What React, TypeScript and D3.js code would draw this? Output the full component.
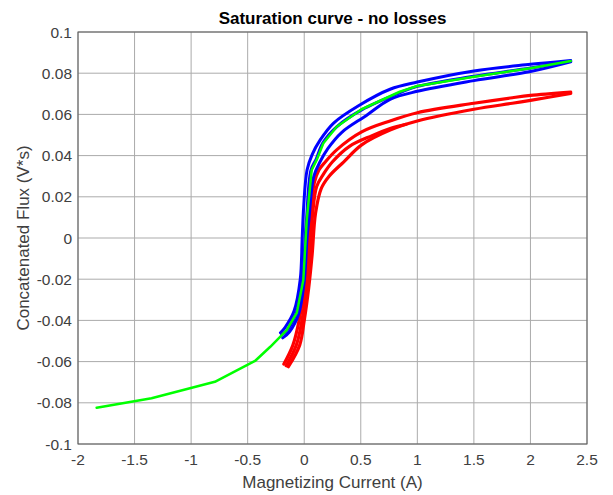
import React from "react";
import * as d3 from "d3";

type P = [number, number];

const xTicks = [-2, -1.5, -1, -0.5, 0, 0.5, 1, 1.5, 2, 2.5];
const yTicks = [-0.1, -0.08, -0.06, -0.04, -0.02, 0, 0.02, 0.04, 0.06, 0.08, 0.1];
const xTickLabels = ["-2", "-1.5", "-1", "-0.5", "0", "0.5", "1", "1.5", "2", "2.5"];
const yTickLabels = ["-0.1", "-0.08", "-0.06", "-0.04", "-0.02", "0", "0.02", "0.04", "0.06", "0.08", "0.1"];

const greenCurve: P[] = [
  [-1.835, -0.0824], [-1.35, -0.0778], [-0.79, -0.0698], [-0.435, -0.0597], [-0.3, -0.0528],
  [-0.155, -0.0447], [-0.066, -0.0364], [-0.008, -0.0204], [0.022, 0.0087], [0.066, 0.033],
  [0.11, 0.0379], [0.169, 0.046], [0.287, 0.054], [0.508, 0.0625], [0.845, 0.071],
  [1.0, 0.0738], [1.5, 0.0783], [2.0, 0.0824], [2.356, 0.0859],
];

const blueUpper: P[] = [
  [-0.21, -0.046], [-0.17, -0.0435], [-0.09, -0.0355], [-0.035, -0.02], [-0.018, 0.0],
  [-0.005, 0.015], [0.025, 0.033], [0.07, 0.0405], [0.14, 0.0475], [0.26, 0.0558], [0.48, 0.0642],
  [0.759, 0.0722], [1.0, 0.0757], [1.5, 0.0811], [2.0, 0.0843], [2.356, 0.0862],
];
const blueMiddle: P[] = [
  [-0.2, -0.047], [-0.15, -0.0447], [-0.07, -0.0364], [-0.015, -0.0204], [0.008, 0.0],
  [0.02, 0.0087], [0.06, 0.033], [0.105, 0.0382], [0.165, 0.0462], [0.287, 0.054], [0.508, 0.0622],
  [0.845, 0.0705], [1.0, 0.0736], [1.5, 0.0785], [2.0, 0.0825], [2.356, 0.0858],
];
const blueLower: P[] = [
  [-0.19, -0.0485], [-0.13, -0.0455], [-0.05, -0.037], [0.0, -0.021], [0.025, 0.0],
  [0.04, 0.008], [0.085, 0.03], [0.14, 0.037], [0.21, 0.0435], [0.33, 0.0512], [0.55, 0.0595],
  [0.759, 0.0673], [1.0, 0.0712], [1.5, 0.0764], [2.0, 0.0808], [2.356, 0.0855],
];

const redUpper: P[] = [
  [-0.18, -0.0612], [-0.1, -0.052], [-0.045, -0.04], [0.0, -0.024], [0.03, -0.008],
  [0.055, 0.012], [0.09, 0.027], [0.13, 0.033], [0.184, 0.0368], [0.287, 0.0428],
  [0.508, 0.0515], [0.759, 0.0568], [1.0, 0.0608], [1.5, 0.0654], [1.84, 0.0681],
  [2.0, 0.0692], [2.356, 0.0708],
];
const redMiddle: P[] = [
  [-0.16, -0.062], [-0.07, -0.052], [-0.02, -0.04], [0.02, -0.024], [0.05, -0.008],
  [0.075, 0.012], [0.11, 0.025], [0.17, 0.031], [0.25, 0.037], [0.4, 0.0445],
  [0.6, 0.0497], [0.759, 0.0532], [0.9, 0.0552],
];
const redLower: P[] = [
  [-0.14, -0.0625], [-0.04, -0.052], [0.0, -0.04], [0.04, -0.024], [0.07, -0.008],
  [0.1, 0.012], [0.15, 0.024], [0.22, 0.03], [0.35, 0.037], [0.508, 0.0452],
  [0.759, 0.0524], [1.0, 0.0568], [1.5, 0.0625], [1.84, 0.0654], [2.0, 0.0668], [2.356, 0.0702],
];

const W = 613;
const H = 495;
const left = 78;
const right = 587;
const top = 32;
const bottom = 444;

export default function App() {
  const x = d3.scaleLinear().domain([-2, 2.5]).range([left, right]);
  const y = d3.scaleLinear().domain([-0.1, 0.1]).range([bottom, top]);
  const line = d3.line<P>().x((d) => x(d[0])).y((d) => y(d[1]));
  const smooth = d3.line<P>().x((d) => x(d[0])).y((d) => y(d[1])).curve(d3.curveCatmullRom.alpha(0.5));
  const font = "'Liberation Sans', Arial, Helvetica, sans-serif";
  const tickColor = "#404040";

  return (
    <svg width={W} height={H} style={{ position: "absolute", left: 0, top: 0, background: "#fff" }}>
      <rect x={0} y={0} width={W} height={H} fill="#fff" />
      <g>
        {xTicks.map((t) => (
          <line key={"gx" + t} x1={x(t)} x2={x(t)} y1={top} y2={bottom} stroke="#ababab" strokeWidth={1} />
        ))}
        {yTicks.map((t) => (
          <line key={"gy" + t} x1={left} x2={right} y1={y(t)} y2={y(t)} stroke="#ababab" strokeWidth={1} />
        ))}
      </g>
      <g fill="none" strokeLinejoin="round" strokeLinecap="round">
        {[redUpper, redMiddle, redLower].map((d, i) => (
          <path key={"r" + i} d={smooth(d) || ""} stroke="#ff0000" strokeWidth={3.2} />
        ))}
        {[blueUpper, blueMiddle, blueLower].map((d, i) => (
          <path key={"b" + i} d={smooth(d) || ""} stroke="#0000ff" strokeWidth={3} />
        ))}
        <path d={line(greenCurve) || ""} stroke="#00ff00" strokeWidth={2.5} />
      </g>
      <rect x={left} y={top} width={right - left} height={bottom - top} fill="none" stroke="#5a5a5a" strokeWidth={1} />
      <g fontFamily={font} fontSize={15.5} fill={tickColor}>
        {xTicks.map((t, i) => (
          <text key={"tx" + t} x={x(t)} y={bottom + 21} textAnchor="middle">
            {xTickLabels[i]}
          </text>
        ))}
        {yTicks.map((t, i) => (
          <text key={"ty" + t} x={left - 6} y={y(t) + 5.5} textAnchor="end">
            {yTickLabels[i]}
          </text>
        ))}
      </g>
      <text x={(left + right) / 2} y={24} textAnchor="middle" fontFamily={font} fontWeight="bold" fontSize={17} fill="#000">
        Saturation curve - no losses
      </text>
      <text x={(left + right) / 2} y={488} textAnchor="middle" fontFamily={font} fontSize={17} fill={tickColor}>
        Magnetizing Current (A)
      </text>
      <text
        transform={`translate(29, ${(top + bottom) / 2}) rotate(-90)`}
        textAnchor="middle"
        fontFamily={font}
        fontSize={17}
        fill={tickColor}
      >
        Concatenated Flux (V*s)
      </text>
    </svg>
  );
}
